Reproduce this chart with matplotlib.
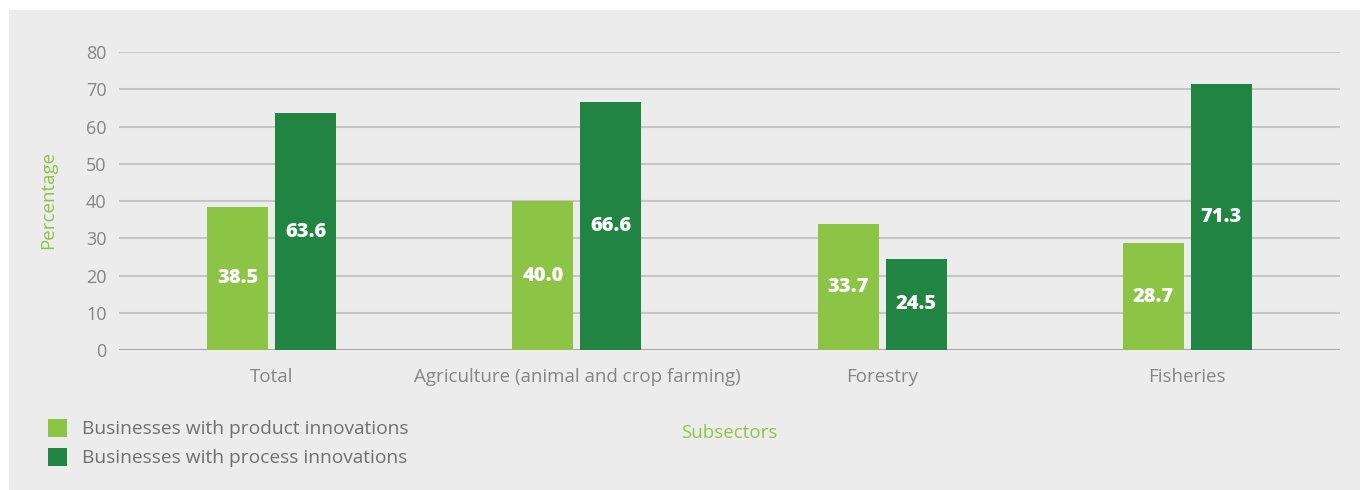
import matplotlib
matplotlib.use("Agg")
import matplotlib.pyplot as plt
from matplotlib.patches import Rectangle, Patch

categories = ["Total", "Agriculture (animal and crop farming)", "Forestry", "Fisheries"]
product_innov = [38.5, 40.0, 33.7, 28.7]
process_innov = [63.6, 66.6, 24.5, 71.3]
series_names = ["Businesses with product innovations", "Businesses with process innovations"]
yticks = [0, 10, 20, 30, 40, 50, 60, 70, 80]

LIGHT = "#8cc545"
DARK = "#228442"
GREY_TXT = "#858585"
PANEL = "#ececec"

plt.rcParams["font.family"] = ["Open Sans", "DejaVu Sans"]

W, H = 1360, 490
fig = plt.figure(figsize=(W / 100, H / 100), dpi=100)
fig.patch.set_facecolor("white")
fig.patches.append(Rectangle((9 / W, 0), 1 - 9 / W, 480 / H, transform=fig.transFigure,
                             facecolor=PANEL, edgecolor="none", zorder=-10))

ax = fig.add_axes([119 / W, 140 / H, (1340 - 119) / W, (350 - 52) / H])
ax.set_facecolor("none")

x = list(range(len(categories)))
bw = 0.2
off = 0.1115
b1 = ax.bar([i - off for i in x], product_innov, width=bw, color=LIGHT, zorder=3)
b2 = ax.bar([i + off for i in x], process_innov, width=bw, color=DARK, zorder=3)

for bars, vals in ((b1, product_innov), (b2, process_innov)):
    for r, v in zip(bars, vals):
        ax.text(r.get_x() + r.get_width() / 2, v / 2, f"{v:.1f}", ha="center", va="center",
                color="white", fontsize=14.5, fontweight="heavy", zorder=4)

ax.set_xlim(-0.5, len(categories) - 0.5)
ax.set_ylim(0, 80)
ax.set_yticks(yticks)
ax.set_yticklabels([str(t) for t in yticks])
ax.yaxis.grid(True, color="#c6c6c6", linewidth=1.5, zorder=1)
ax.set_axisbelow(True)
for s in ax.spines.values():
    s.set_visible(False)
ax.axhline(0, color="#a6a6a6", linewidth=1.5, zorder=2)
ax.tick_params(axis="y", length=0, pad=9, labelsize=13, labelcolor=GREY_TXT)
ax.set_xticks(x)
ax.set_xticklabels(categories)
ax.tick_params(axis="x", length=0, pad=13, labelsize=13.5, labelcolor=GREY_TXT)

fig.text(48 / W, 1 - 200 / H, "Percentage", rotation=90, ha="center", va="center",
         color=LIGHT, fontsize=13.5)
fig.text(729 / W, 1 - 433 / H, "Subsectors", ha="center", va="center",
         color=LIGHT, fontsize=13.5)

handles = [Patch(facecolor=LIGHT, edgecolor="none"), Patch(facecolor=DARK, edgecolor="none")]
leg = fig.legend(handles, series_names, loc="upper left", bbox_to_anchor=(48 / W, 1 - 419 / H),
                 frameon=False, fontsize=13.8, handlelength=1.0, handleheight=1.05,
                 handletextpad=0.75, labelspacing=0.5, borderaxespad=0, borderpad=0)
for t in leg.get_texts():
    t.set_color("#6f6f6f")

fig.savefig("out.png", dpi=100, facecolor=fig.get_facecolor())
